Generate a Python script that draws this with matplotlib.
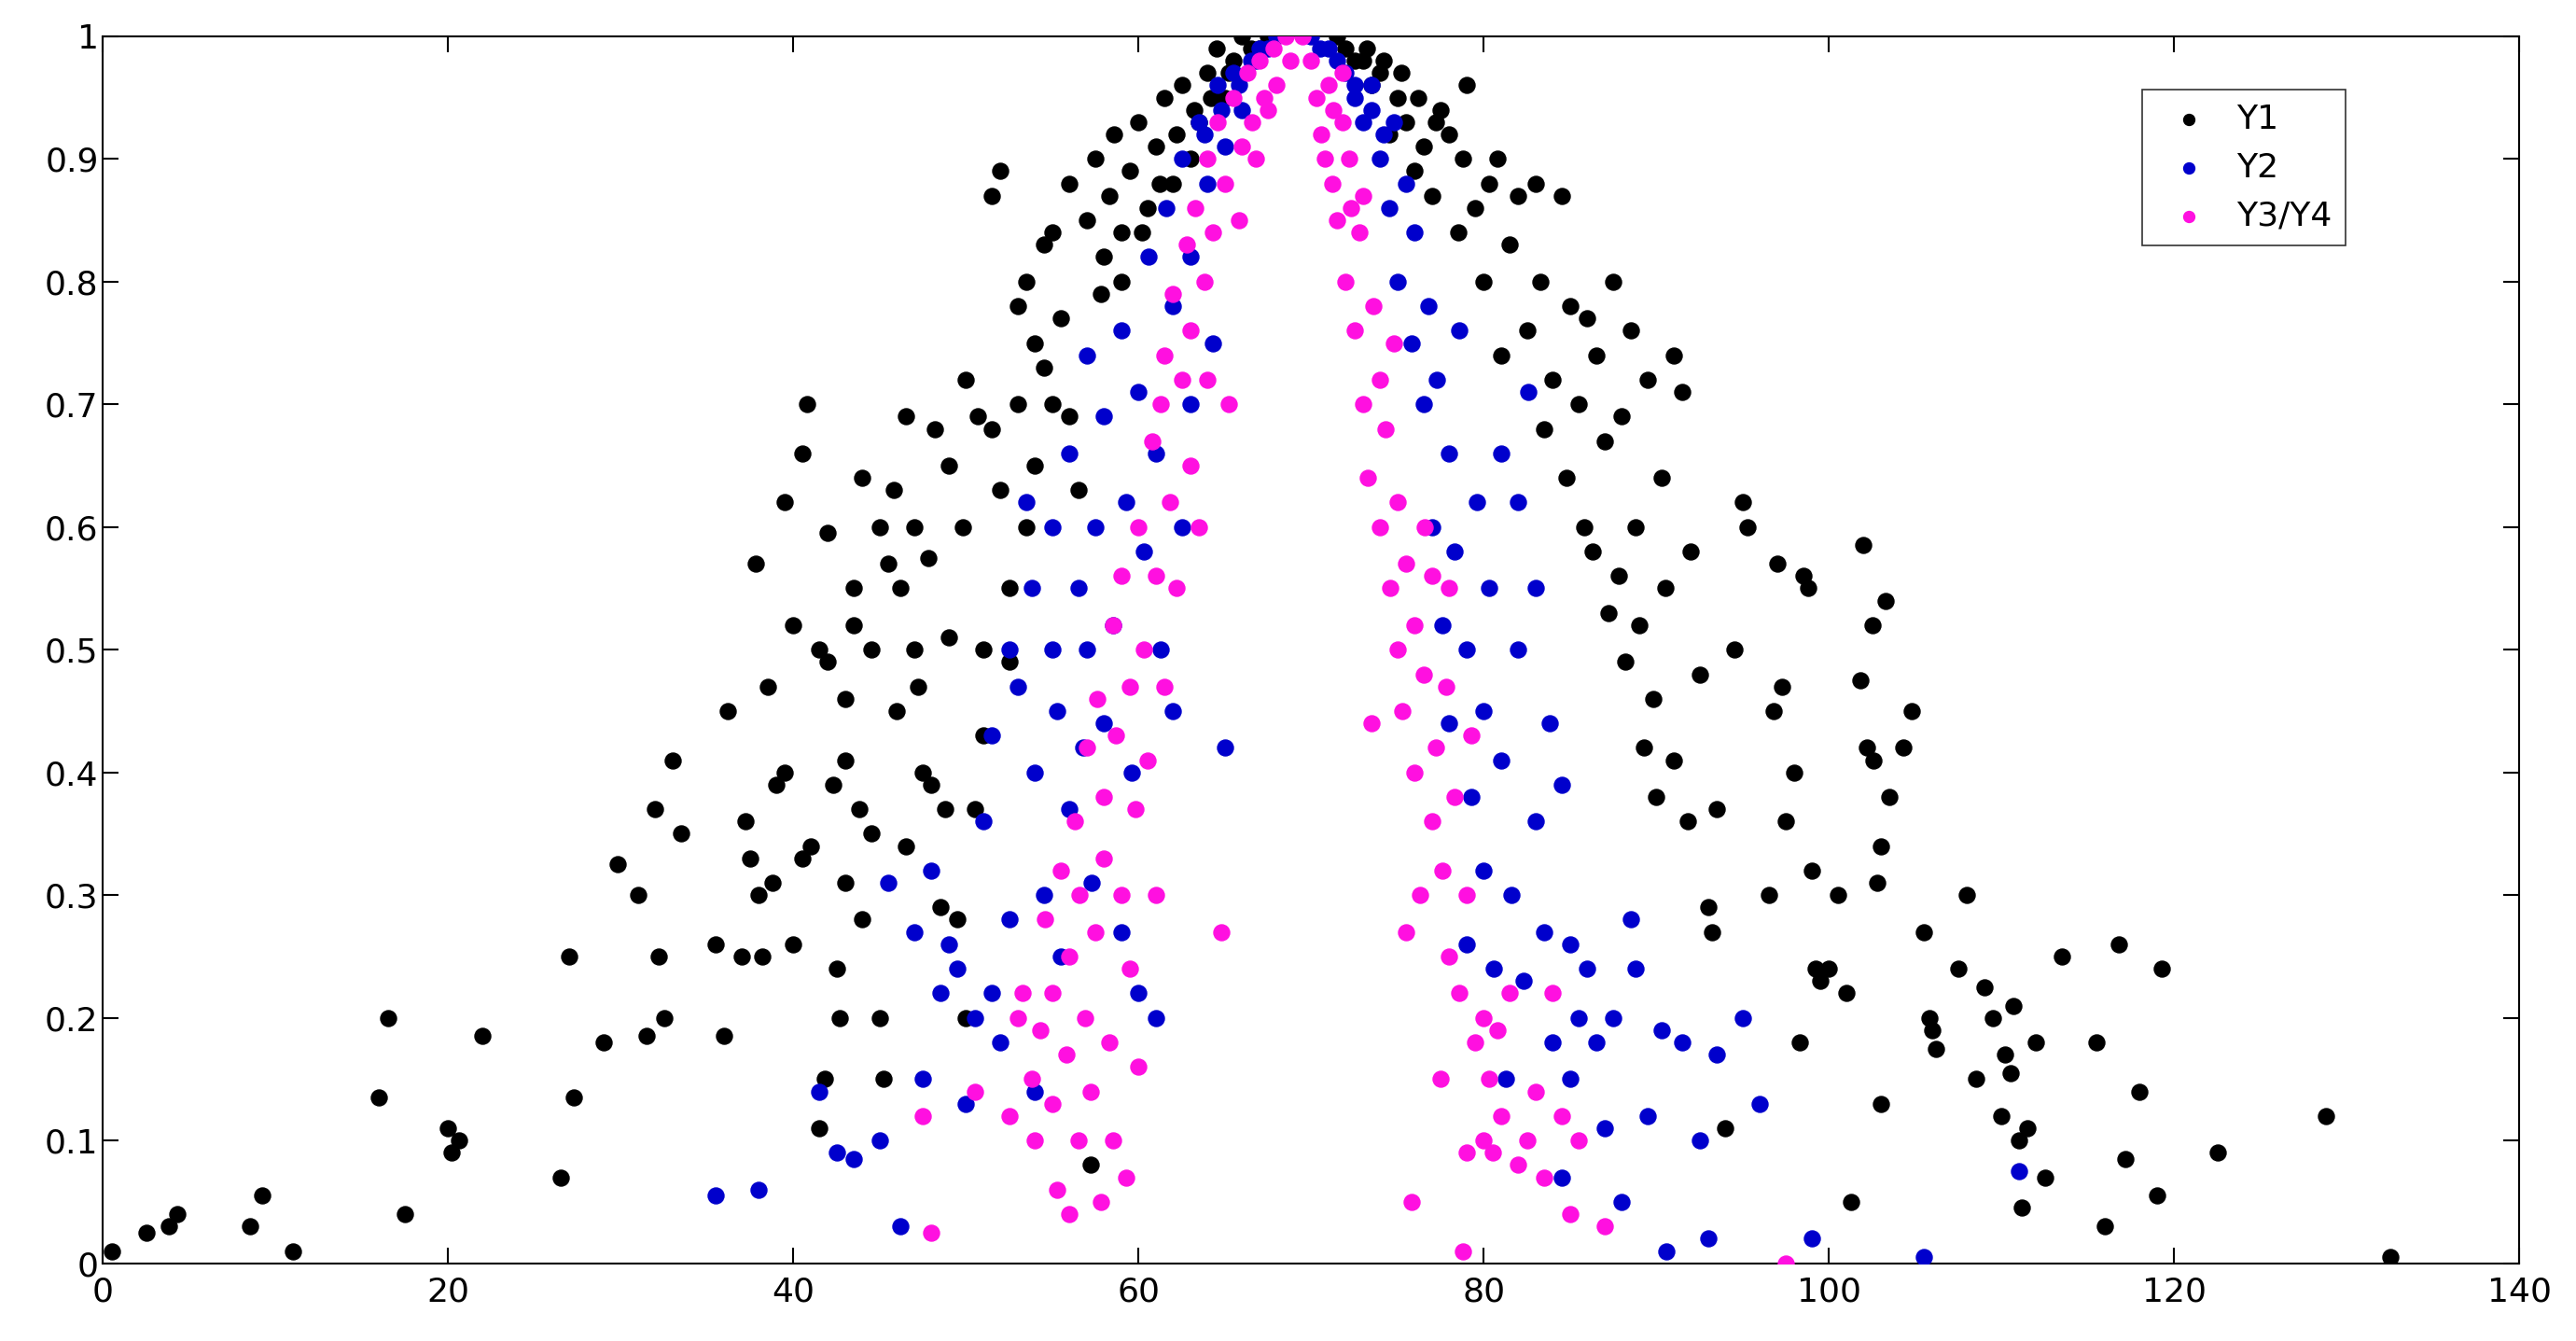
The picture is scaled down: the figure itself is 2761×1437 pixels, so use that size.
import matplotlib.pyplot as plt

# values
y1_x = [0.5, 2.5, 3.8, 4.3, 8.5, 9.2, 11, 16, 16.5, 17.5, 20, 20.2, 20.6, 22, 26.5, 27, 27.3, 29, 29.8, 31,
        31.5, 32, 32.2, 32.5, 33, 33.5, 35.5, 36, 36.2, 37, 37.2, 37.5, 37.8, 38, 38.2, 38.5, 38.8, 39, 39.5, 39.5,
        40, 40, 40.5, 40.5, 40.8, 41, 41.5, 41.5, 41.8, 42, 42, 42.3, 42.5, 42.7, 43, 43, 43, 43.5, 43.5, 43.8,
        44, 44, 44.5, 44.5, 45, 45, 45.2, 45.5, 45.8, 46, 46.2, 46.5, 46.5, 47, 47, 47.2, 47.5, 47.8, 48, 48.2,
        48.5, 48.8, 49, 49, 49.5, 49.8, 50, 50, 50.5, 50.7, 51, 51, 51.5, 51.5, 52, 52, 52.5, 52.5, 53, 53,
        53.5, 53.5, 54, 54, 54.5, 54.5, 55, 55, 55.5, 56, 56, 56.5, 57, 57.2, 57.5, 57.8, 58, 58.3, 58.6, 59,
        59.5, 60, 60.5, 61, 61.5, 62, 62.5, 63, 63.5, 64, 64.5, 65, 65.5, 66, 67,
        59, 60.2, 61.2, 62.2, 63.2, 64.2, 65.2, 66.5, 67.5, 71.5, 72.5, 73.2, 74.2, 75.2, 76.2, 77.2,
        72, 73, 73.5, 74, 74.5, 75, 75.5, 76, 76.5, 77, 77.5, 78, 78.5, 78.8, 79, 79.5, 80, 80.3, 80.8, 81,
        81.5, 82, 82.5, 83, 83.3, 83.5, 84, 84.5, 84.8, 85, 85.5, 85.8, 86, 86.3, 86.5, 87, 87.2, 87.5, 87.8, 88,
        88.2, 88.5, 88.8, 89, 89.3, 89.5, 89.8, 90, 90.3, 90.5, 91, 91, 91.5, 91.8, 92, 92.5, 93, 93.2, 93.5, 94,
        94.5, 95, 95.3, 96.5, 96.8, 97, 97.3, 97.5, 98, 98.3, 98.5, 98.8, 99, 99.2, 99.5, 100, 100.5, 101, 101.3, 101.8,
        102, 102.2, 102.5, 102.6, 102.8, 103, 103, 103.3, 103.5, 104.3, 104.8, 105.5, 105.8, 106, 106.2, 107.5, 108, 108.5, 109, 109.5,
        110, 110.2, 110.5, 110.7, 111, 111.2, 111.5, 112, 112.5, 113.5, 115.5, 116, 116.8, 117.2, 118, 119, 119.3, 122.5, 128.8, 132.5]
y1_y = [0.01, 0.025, 0.03, 0.04, 0.03, 0.055, 0.01, 0.135, 0.2, 0.04, 0.11, 0.09, 0.1, 0.185, 0.07, 0.25, 0.135, 0.18, 0.325, 0.3,
        0.185, 0.37, 0.25, 0.2, 0.41, 0.35, 0.26, 0.185, 0.45, 0.25, 0.36, 0.33, 0.57, 0.3, 0.25, 0.47, 0.31, 0.39, 0.4, 0.62,
        0.52, 0.26, 0.66, 0.33, 0.7, 0.34, 0.5, 0.11, 0.15, 0.595, 0.49, 0.39, 0.24, 0.2, 0.41, 0.46, 0.31, 0.55, 0.52, 0.37,
        0.28, 0.64, 0.5, 0.35, 0.6, 0.2, 0.15, 0.57, 0.63, 0.45, 0.55, 0.69, 0.34, 0.6, 0.5, 0.47, 0.4, 0.575, 0.39, 0.68,
        0.29, 0.37, 0.51, 0.65, 0.28, 0.6, 0.72, 0.2, 0.37, 0.69, 0.5, 0.43, 0.68, 0.87, 0.89, 0.63, 0.55, 0.49, 0.78, 0.7,
        0.8, 0.6, 0.75, 0.65, 0.73, 0.83, 0.84, 0.7, 0.77, 0.88, 0.69, 0.63, 0.85, 0.08, 0.9, 0.79, 0.82, 0.87, 0.92, 0.84,
        0.89, 0.93, 0.86, 0.91, 0.95, 0.88, 0.96, 0.9, 0.93, 0.97, 0.99, 0.95, 0.98, 1.0, 0.99,
        0.8, 0.84, 0.88, 0.92, 0.94, 0.95, 0.97, 0.99, 1.0, 1.0, 0.98, 0.99, 0.98, 0.97, 0.95, 0.93,
        0.99, 0.98, 0.96, 0.97, 0.92, 0.95, 0.93, 0.89, 0.91, 0.87, 0.94, 0.92, 0.84, 0.9, 0.96, 0.86, 0.8, 0.88, 0.9, 0.74,
        0.83, 0.87, 0.76, 0.88, 0.8, 0.68, 0.72, 0.87, 0.64, 0.78, 0.7, 0.6, 0.77, 0.58, 0.74, 0.67, 0.53, 0.8, 0.56, 0.69,
        0.49, 0.76, 0.6, 0.52, 0.42, 0.72, 0.46, 0.38, 0.64, 0.55, 0.74, 0.41, 0.71, 0.36, 0.58, 0.48, 0.29, 0.27, 0.37, 0.11,
        0.5, 0.62, 0.6, 0.3, 0.45, 0.57, 0.47, 0.36, 0.4, 0.18, 0.56, 0.55, 0.32, 0.24, 0.23, 0.24, 0.3, 0.22, 0.05, 0.475,
        0.585, 0.42, 0.52, 0.41, 0.31, 0.34, 0.13, 0.54, 0.38, 0.42, 0.45, 0.27, 0.2, 0.19, 0.175, 0.24, 0.3, 0.15, 0.225, 0.2,
        0.12, 0.17, 0.155, 0.21, 0.1, 0.045, 0.11, 0.18, 0.07, 0.25, 0.18, 0.03, 0.26, 0.085, 0.14, 0.055, 0.24, 0.09, 0.12, 0.005]

y2_x = [35.5, 38, 41.5, 42.5, 43.5, 45, 45.5, 46.2, 47, 47.5, 48, 48.5, 49, 49.5, 50, 50.5, 51, 51.5, 51.5, 52,
        52.5, 52.5, 53, 53.5, 53.8, 54, 54, 54.5, 55, 55, 55.3, 55.5, 56, 56, 56.5, 56.8, 57, 57, 57.3, 57.5,
        58, 58, 58.5, 59, 59, 59.3, 59.6, 60, 60, 60.3, 60.6, 61, 61, 61.3, 61.6, 62, 62, 62.5, 62.5, 63,
        63, 63.5, 64, 64.3, 64.6, 65, 65, 65.5, 66, 66.5, 67, 68,
        63.8, 64.8, 65.8, 66.8, 67.5, 70.5, 71.5, 72.5, 73.5, 74.2,
        70, 71, 72, 72.5, 73, 73.5, 74, 74.5, 74.8, 75, 75.5, 75.8, 76, 76.5, 76.8, 77, 77.3, 77.6, 78, 78,
        78.3, 78.6, 79, 79, 79.3, 79.6, 80, 80, 80.3, 80.6, 81, 81, 81.3, 81.6, 82, 82, 82.3, 82.6, 83, 83,
        83.5, 83.8, 84, 84.5, 84.5, 85, 85, 85.5, 86, 86.5, 87, 87.5, 88, 88.5, 88.8, 89.5, 90.3, 90.6, 91.5, 92.5,
        93, 93.5, 95, 96, 99, 105.5, 111]
y2_y = [0.055, 0.06, 0.14, 0.09, 0.085, 0.1, 0.31, 0.03, 0.27, 0.15, 0.32, 0.22, 0.26, 0.24, 0.13, 0.2, 0.36, 0.22, 0.43, 0.18,
        0.28, 0.5, 0.47, 0.62, 0.55, 0.4, 0.14, 0.3, 0.5, 0.6, 0.45, 0.25, 0.37, 0.66, 0.55, 0.42, 0.74, 0.5, 0.31, 0.6,
        0.69, 0.44, 0.52, 0.76, 0.27, 0.62, 0.4, 0.71, 0.22, 0.58, 0.82, 0.66, 0.2, 0.5, 0.86, 0.78, 0.45, 0.9, 0.6, 0.82,
        0.7, 0.93, 0.88, 0.75, 0.96, 0.42, 0.91, 0.97, 0.94, 0.98, 0.99, 1.0,
        0.92, 0.94, 0.96, 0.98, 0.99, 0.99, 0.98, 0.96, 0.94, 0.92,
        1.0, 0.99, 0.97, 0.95, 0.93, 0.96, 0.9, 0.86, 0.93, 0.8, 0.88, 0.75, 0.84, 0.7, 0.78, 0.6, 0.72, 0.52, 0.66, 0.44,
        0.58, 0.76, 0.5, 0.26, 0.38, 0.62, 0.45, 0.32, 0.55, 0.24, 0.66, 0.41, 0.15, 0.3, 0.5, 0.62, 0.23, 0.71, 0.36, 0.55,
        0.27, 0.44, 0.18, 0.39, 0.07, 0.26, 0.15, 0.2, 0.24, 0.18, 0.11, 0.2, 0.05, 0.28, 0.24, 0.12, 0.19, 0.01, 0.18, 0.1,
        0.02, 0.17, 0.2, 0.13, 0.02, 0.005, 0.075]

y3_x = [47.5, 48, 50.5, 52.5, 53, 53.3, 53.8, 54, 54.3, 54.6, 55, 55, 55.3, 55.5, 55.8, 56, 56, 56.3, 56.5, 56.6,
        56.9, 57, 57.2, 57.5, 57.6, 57.8, 58, 58, 58.3, 58.5, 58.5, 58.7, 59, 59, 59.3, 59.5, 59.5, 59.8, 60, 60,
        60.3, 60.5, 60.8, 61, 61, 61.3, 61.5, 61.5, 61.8, 62, 62.2, 62.5, 62.8, 63, 63, 63.3, 63.5, 63.8, 64, 64,
        64.3, 64.6, 64.8, 65, 65.2, 65.5, 65.8, 66, 66.3, 66.6, 67, 67.3, 67.8, 68.5,
        66.8, 67.5, 68, 68.8, 70.8, 71.3, 71.8, 72.3,
        69.5, 70, 70.3, 70.6, 71, 71.2, 71.5, 71.8, 72, 72.2, 72.5, 72.8, 73, 73, 73.3, 73.5, 73.6, 74, 74, 74.3,
        74.6, 74.8, 75, 75, 75.3, 75.5, 75.5, 75.8, 76, 76, 76.3, 76.5, 76.6, 77, 77, 77.2, 77.5, 77.6, 77.8, 78,
        78, 78.3, 78.6, 78.8, 79, 79, 79.3, 79.5, 80, 80, 80.3, 80.5, 80.8, 81, 81.5, 82, 82.5, 83, 83.5, 84,
        84.5, 85, 85.5, 87, 97.5]
y3_y = [0.12, 0.025, 0.14, 0.12, 0.2, 0.22, 0.15, 0.1, 0.19, 0.28, 0.13, 0.22, 0.06, 0.32, 0.17, 0.25, 0.04, 0.36, 0.1, 0.3,
        0.2, 0.42, 0.14, 0.27, 0.46, 0.05, 0.38, 0.33, 0.18, 0.52, 0.1, 0.43, 0.3, 0.56, 0.07, 0.24, 0.47, 0.37, 0.6, 0.16,
        0.5, 0.41, 0.67, 0.3, 0.56, 0.7, 0.47, 0.74, 0.62, 0.79, 0.55, 0.72, 0.83, 0.65, 0.76, 0.86, 0.6, 0.8, 0.9, 0.72,
        0.84, 0.93, 0.27, 0.88, 0.7, 0.95, 0.85, 0.91, 0.97, 0.93, 0.98, 0.95, 0.99, 1.0,
        0.9, 0.94, 0.96, 0.98, 0.9, 0.94, 0.97, 0.86,
        1.0, 0.98, 0.95, 0.92, 0.96, 0.88, 0.85, 0.93, 0.8, 0.9, 0.76, 0.84, 0.7, 0.87, 0.64, 0.44, 0.78, 0.6, 0.72, 0.68,
        0.55, 0.75, 0.5, 0.62, 0.45, 0.27, 0.57, 0.05, 0.4, 0.52, 0.3, 0.48, 0.6, 0.36, 0.56, 0.42, 0.15, 0.32, 0.47, 0.25,
        0.55, 0.38, 0.22, 0.01, 0.09, 0.3, 0.43, 0.18, 0.1, 0.2, 0.15, 0.09, 0.19, 0.12, 0.22, 0.08, 0.1, 0.14, 0.07, 0.22,
        0.12, 0.04, 0.1, 0.03, 0.0]

x_ticks = [0, 20, 40, 60, 80, 100, 120, 140]
y_ticks = [0, 0.1, 0.2, 0.3, 0.4, 0.5, 0.6, 0.7, 0.8, 0.9, 1]
y_tick_labels = ["0", "0.1", "0.2", "0.3", "0.4", "0.5", "0.6", "0.7", "0.8", "0.9", "1"]

fig = plt.figure(figsize=(27.61, 14.37), dpi=100)
ax = fig.add_axes([0.04, 0.058, 0.938, 0.915])

ax.scatter(y1_x, y1_y, s=150, color="black", label="Y1", zorder=2)
ax.scatter(y2_x, y2_y, s=150, color="#0000cc", label="Y2", zorder=3)
ax.scatter(y3_x, y3_y, s=150, color="#ff10e0", label="Y3/Y4", zorder=4)

ax.set_xlim(0, 140)
ax.set_ylim(0, 1)
ax.set_xticks(x_ticks)
ax.set_yticks(y_ticks)
ax.set_yticklabels(y_tick_labels)
ax.tick_params(direction="in", top=True, right=True, labelsize=26, length=12, width=1.5)
ax.tick_params(axis="x", pad=10)
for sp in ax.spines.values():
    sp.set_linewidth(1.5)

leg = ax.legend(loc="upper right", bbox_to_anchor=(0.935, 0.97), fontsize=26,
                fancybox=False, edgecolor="black", handletextpad=0.4, markerscale=0.7)
leg.get_frame().set_linewidth(1.2)

fig.savefig("out.png")
